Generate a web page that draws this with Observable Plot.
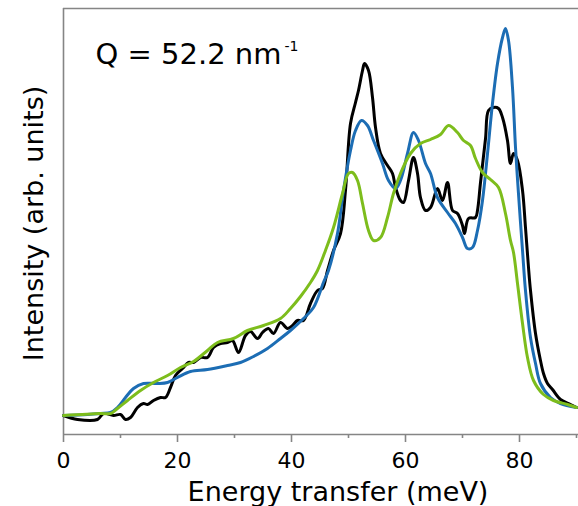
<!DOCTYPE html>
<html>
<head>
<meta charset="utf-8">
<script src="https://cdn.jsdelivr.net/npm/d3@7"></script>
<script src="https://cdn.jsdelivr.net/npm/@observablehq/plot@0.6"></script>
<style>
  html, body { margin: 0; padding: 0; background: #fff; }
  svg { display: block; }
</style>
</head>
<body>
<div id="chart"></div>
<script>
// ---- data (energy in meV, intensity in arbitrary units) ----
const energyBlack = [0,2.46,5.96,7.02,8.77,10.0,10.88,11.75,12.98,14.04,14.74,15.79,17.02,17.89,18.77,19.65,20.88,21.93,22.81,24.04,25.26,26.32,27.54,28.77,29.65,30.70,31.93,32.81,34.04,34.91,35.96,36.84,38.07,39.30,40.18,41.05,42.11,43.33,44.56,45.44,46.32,47.37,48.60,49.47,50.35,51.23,51.75,52.46,52.81,53.51,54.21,54.74,55.61,56.84,57.72,58.25,59.12,59.65,60.53,61.40,62.11,62.63,63.51,64.39,65.61,66.49,67.37,68.25,69.12,70.0,70.35,71.05,72.28,72.63,73.16,74.04,74.56,75.44,76.32,77.02,77.89,78.42,78.95,79.65,80.53,81.05,81.58,81.93,82.81,83.68,84.21,84.91,85.79,87.19,88.95,90.0];
const intensityBlack = [19,15,15,21,19,20,15,17,27,31,30,34,37,37,47,59,66,72,72,77,77,87,91,92,94,82,99,103,96,102,106,101,112,106,109,114,114,131,144,146,164,184,201,244,311,332,344,364,371,364,337,307,281,269,261,247,234,232,254,277,261,237,224,227,246,234,252,224,221,209,201,216,217,224,252,296,324,327,326,317,294,271,281,274,244,207,167,144,101,74,61,51,45,35,30,27];

const energyBlue = [0,4.21,6.49,8.25,9.47,10.88,12.28,14.04,16.49,18.25,20.0,22.28,25.26,28.77,31.05,33.33,35.79,38.07,39.82,42.11,43.86,45.61,46.49,48.07,49.12,50.35,51.23,52.28,53.33,54.39,55.96,57.02,58.25,59.12,60.35,61.40,62.28,63.51,64.39,65.61,67.37,68.77,70.0,70.88,71.75,72.63,73.51,74.39,75.26,76.14,77.02,77.54,78.07,78.77,79.30,79.82,80.53,81.05,81.93,82.81,83.68,85.44,87.19,90.0];
const intensityBlue = [19,20,21,22,27,37,46,51,51,52,57,63,65,69,72,78,86,96,104,116,127,152,164,201,244,284,304,314,309,294,271,254,246,254,281,302,294,271,261,237,222,211,197,186,187,204,234,281,331,371,397,406,394,347,287,241,184,144,97,71,51,37,31,27];

const energyGreen = [0,6.49,8.25,9.47,11.23,13.51,15.79,18.25,20.53,22.81,25.26,27.02,29.82,32.28,35.09,38.07,39.82,41.58,43.33,44.56,45.96,47.37,48.95,50.0,50.70,51.58,52.46,53.51,54.39,55.61,56.84,57.89,59.12,60.88,62.63,64.39,66.14,67.54,69.12,70.18,71.40,72.28,73.51,74.91,76.32,77.54,78.42,78.95,79.65,80.53,81.40,82.46,84.21,85.96,88.42,90.0];
const intensityGreen = [19,21,21,26,34,44,52,59,67,73,84,92,96,104,109,116,126,138,152,164,184,207,241,261,262,254,231,204,194,197,217,241,261,281,291,295,300,309,302,294,289,276,262,255,247,221,194,182,151,111,77,54,40,34,30,27];

const xMajorTicks = [0, 20, 40, 60, 80];
const xMinorTicks = [10, 30, 50, 70, 90];
const xDomain = [0, 90];
const yDomain = [0, 426];

const xTitle = "Energy transfer (meV)";
const yTitle = "Intensity (arb. units)";
const qText = "Q = 52.2 nm";
const qSup = "-1";

// ---- build tables ----
const toRows = (E, I) => E.map((e, i) => ({energy: e, intensity: I[i]}));
const blackRows = toRows(energyBlack, intensityBlack);
const blueRows = toRows(energyBlue, intensityBlue);
const greenRows = toRows(energyGreen, intensityGreen);

const axisGray = "#858585";
const font = "DejaVu Sans, Verdana, sans-serif";

const chart = Plot.plot({
  width: 578,
  height: 506,
  marginTop: 8,
  marginRight: 2,
  marginBottom: 72,
  marginLeft: 63,
  style: {fontFamily: font, background: "#fff", color: "#000", overflow: "visible"},
  x: {domain: xDomain, label: null},
  y: {domain: yDomain, axis: null, label: null},
  marks: [
    Plot.ruleX([xDomain[0]], {stroke: axisGray, strokeWidth: 1.6}),
    Plot.ruleY([yDomain[1]], {x1: xDomain[0], x2: 90.4, stroke: axisGray, strokeWidth: 1.6}),
    Plot.ruleY([yDomain[0]], {x1: xDomain[0], x2: 90.4, stroke: axisGray, strokeWidth: 1.6}),
    Plot.axisX({ticks: xMajorTicks, tickSize: 8, tickPadding: 10, fontSize: 22, stroke: axisGray, strokeWidth: 1.6, fill: "#000", label: null}),
    Plot.axisX({ticks: xMinorTicks, tickSize: 4, tickFormat: () => "", stroke: axisGray, strokeWidth: 1.6, label: null}),
    Plot.line(blackRows, {x: "energy", y: "intensity", stroke: "#000000", strokeWidth: 3, curve: "catmull-rom"}),
    Plot.line(blueRows, {x: "energy", y: "intensity", stroke: "#1c6db4", strokeWidth: 3, curve: "catmull-rom"}),
    Plot.line(greenRows, {x: "energy", y: "intensity", stroke: "#7dbd1c", strokeWidth: 3, curve: "catmull-rom"}),
    Plot.text([xTitle], {text: d => d, frameAnchor: "bottom", textAnchor: "middle", lineAnchor: "bottom", dx: 18, dy: 66, fontSize: 27, fill: "#000"}),
    Plot.text([yTitle], {text: d => d, frameAnchor: "left", textAnchor: "middle", lineAnchor: "bottom", rotate: -90, dx: -21, dy: 2, fontSize: 27, fill: "#000"}),
    Plot.text([qText], {text: d => d, frameAnchor: "top-left", textAnchor: "start", lineAnchor: "bottom", dx: 32, dy: 55, fontSize: 29, fill: "#000"}),
    Plot.text([qSup], {text: d => d, frameAnchor: "top-left", textAnchor: "start", lineAnchor: "bottom", dx: 221, dy: 42, fontSize: 14, fill: "#000"})
  ]
});

document.getElementById("chart").appendChild(chart);
</script>
</body>
</html>
